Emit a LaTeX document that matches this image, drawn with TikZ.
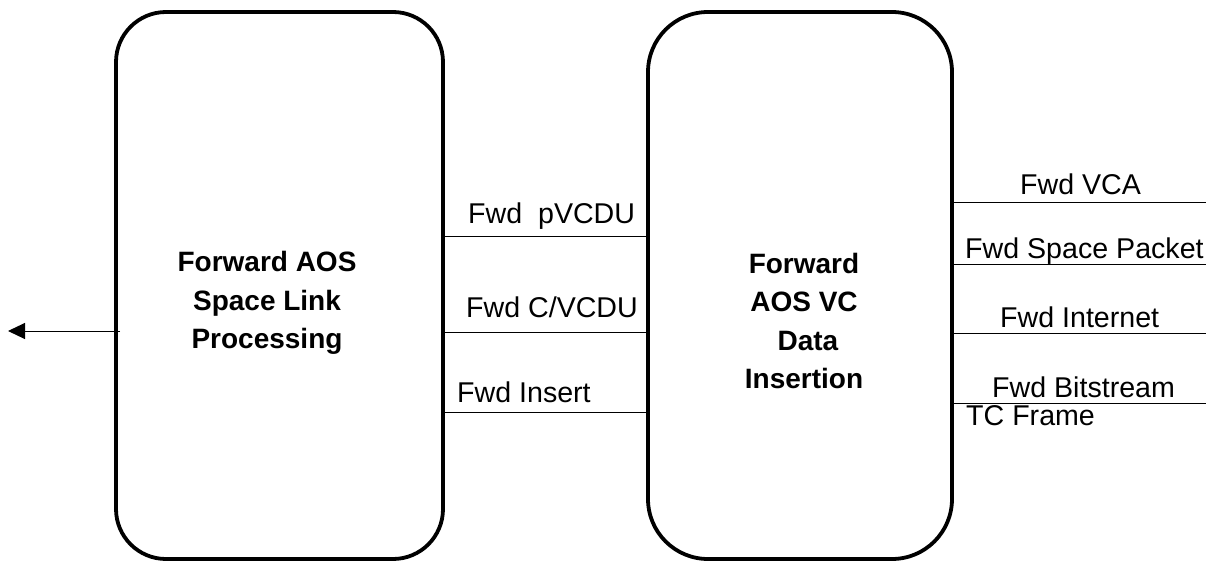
\documentclass[tikz,border=0pt]{standalone}
\usepackage{fontspec}
\setmainfont{Liberation Sans}
\usetikzlibrary{arrows.meta}
\begin{document}
\begin{tikzpicture}[x=1pt,y=-1pt,
  blockbox/.style={draw, line width=3.8pt, outer sep=0pt, inner sep=0pt},
  boldtxt/.style={font=\fontsize{28}{38.5}\selectfont\bfseries, align=center, inner sep=0pt},
  lbl/.style={font=\fontsize{28.6}{34}\selectfont, anchor=base west, inner sep=0pt},
  thin/.style={line width=1pt}]
\useasboundingbox (0,0) rectangle (1218,562);
\node[blockbox, rounded corners=50pt, minimum width=327pt, minimum height=547pt] (L) at (279.5,285.5) {};
\node[blockbox, rounded corners=60pt, minimum width=304pt, minimum height=547pt] (R) at (800,285.5) {};
\node[boldtxt] (Lt) at (267,303) {Forward AOS\\Space Link\\Processing};
\node[boldtxt] (Rt) at (804,321) {Forward\\AOS VC\\\ Data\\Insertion};
% connectors between boxes
\draw[thin] (L.east |- 0,236) -- (R.west |- 0,236);
\draw[thin] (L.east |- 0,332) -- (R.west |- 0,332);
\draw[thin] (L.east |- 0,412) -- (R.west |- 0,412);
\node[lbl] (l1) at (468,223) {Fwd\ \ pVCDU};
\node[lbl] (l2) at (466,317) {Fwd C/VCDU};
\node[lbl] (l3) at (457,402) {Fwd Insert};
% right side connectors
\coordinate (e1) at (1206,202);
\coordinate (e2) at (1206,264);
\coordinate (e3) at (1206,333);
\coordinate (e4) at (1206,403);
\draw[thin] (R.east |- e1) -- (e1);
\draw[thin] (R.east |- e2) -- (e2);
\draw[thin] (R.east |- e3) -- (e3);
\draw[thin] (R.east |- e4) -- (e4);
\node[lbl] (r1) at (1020,194) {Fwd VCA};
\node[lbl] (r2) at (965,258) {Fwd Space Packet};
\node[lbl] (r3) at (1000,327) {Fwd Internet};
\node[lbl] (r4) at (992,397) {Fwd Bitstream};
\node[lbl] (r5) at (966,425) {TC Frame};
% output arrow
\coordinate (out) at (8,331);
\draw[thin, -{Triangle[length=17pt,width=16pt]}] ([xshift=4pt]L.west |- out) -- (out);
\end{tikzpicture}
\end{document}
